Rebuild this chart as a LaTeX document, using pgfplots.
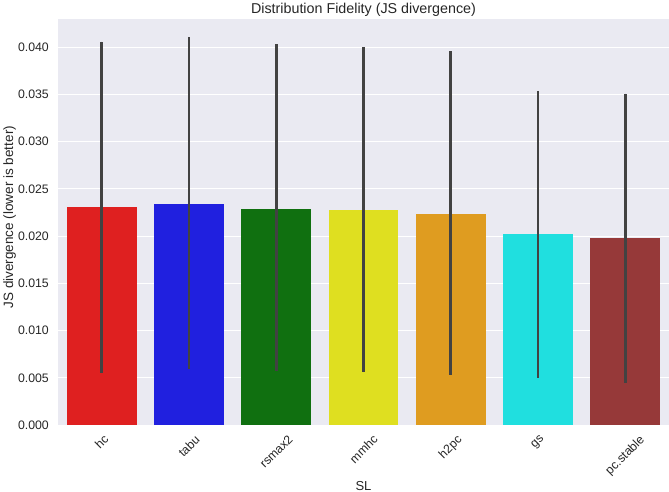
\documentclass[border=0pt]{standalone}
\usepackage{fontspec}
\setmainfont{Liberation Sans}
\usepackage{pgfplots}
\pgfplotsset{compat=1.18}
\definecolor{bg}{HTML}{EAEAF2}
\definecolor{txt}{HTML}{262626}
\definecolor{eg}{HTML}{424242}
\definecolor{cRed}{HTML}{DF2020}
\definecolor{cBlue}{HTML}{2020DF}
\definecolor{cGreen}{HTML}{107010}
\definecolor{cYellow}{HTML}{DFDF20}
\definecolor{cOrange}{HTML}{DF9C20}
\definecolor{cCyan}{HTML}{20DFDF}
\definecolor{cBrown}{HTML}{963939}
\pgfplotsset{
  barerr/.style={draw=none, bar shift=0pt, bar width=0.8,
    error bars/.cd, y dir=both, y explicit, error mark=none,
    error bar style={line width=2.7bp, color=eg}}
}
\begin{document}
\begin{tikzpicture}[font=\fontsize{12.3bp}{14bp}\selectfont]
\path[use as bounding box] (-58bp,-67bp) rectangle (611bp,425bp);
\begin{axis}[
  at={(0,0)}, anchor=south west,
  scale only axis, width=611bp, height=406bp,
  xmin=-0.5, xmax=6.5, ymin=0, ymax=0.043,
  axis background/.style={fill=bg},
  axis line style={draw=none},
  ymajorgrids, grid style={white, line width=1bp},
  major tick length=0pt,
  ybar,
  every axis title shift=0pt,
  xtick={0,1,2,3,4,5,6},
  xticklabels={\rotatebox{45}{hc},\rotatebox{45}{tabu},\rotatebox{45}{rsmax2},\rotatebox{45}{mmhc},\rotatebox{45}{h2pc},\rotatebox{45}{gs},\rotatebox{45}{pc.stable}},
  xticklabel style={anchor=north, inner sep=0pt, yshift=-9bp, text=txt},
  ytick={0,0.005,0.010,0.015,0.020,0.025,0.030,0.035,0.040},
  scaled y ticks=false,
  yticklabel style={/pgf/number format/.cd, fixed, fixed zerofill, precision=3, assume math mode=true, /tikz/.cd, text=txt, anchor=east, inner sep=0pt, xshift=-9bp},
  title={Distribution Fidelity (JS divergence)},
  title style={at={(axis description cs:0.5,1)}, anchor=base, inner sep=0pt, yshift=5.7bp, font=\fontsize{14.3bp}{16bp}\selectfont, text=txt},
  xlabel={SL},
  xlabel style={at={(axis description cs:0.5,-0.151)}, anchor=center, inner sep=0pt, font=\fontsize{13bp}{15bp}\selectfont, text=txt},
  ylabel={JS divergence (lower is better)},
  ylabel style={at={(axis description cs:-0.079,0.512)}, anchor=center, inner sep=0pt, font=\fontsize{13.5bp}{15bp}\selectfont, text=txt},
]
\addplot[fill=cRed, barerr] coordinates {(0,0.0231) += (0,0.0175) -= (0,0.0176)};
\addplot[fill=cBlue, barerr] coordinates {(1,0.0234) += (0,0.0177) -= (0,0.0175)};
\addplot[fill=cGreen, barerr] coordinates {(2,0.0229) += (0,0.0174) -= (0,0.0172)};
\addplot[fill=cYellow, barerr] coordinates {(3,0.0228) += (0,0.0172) -= (0,0.0172)};
\addplot[fill=cOrange, barerr] coordinates {(4,0.0224) += (0,0.0172) -= (0,0.0171)};
\addplot[fill=cCyan, barerr] coordinates {(5,0.0202) += (0,0.0152) -= (0,0.0152)};
\addplot[fill=cBrown, barerr] coordinates {(6,0.0198) += (0,0.0153) -= (0,0.0153)};
\end{axis}
\end{tikzpicture}
\end{document}
